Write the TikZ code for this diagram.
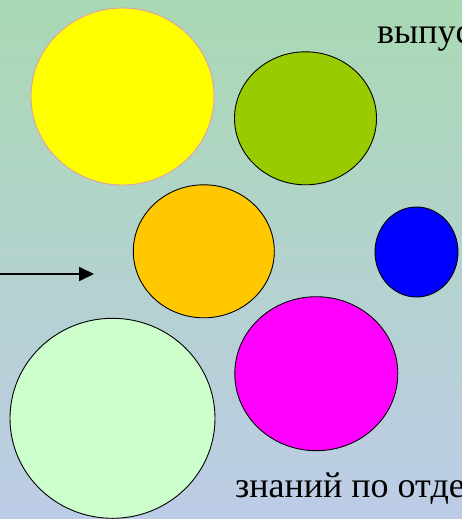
\documentclass[tikz,border=0pt]{standalone}
\usepackage{fontspec}
\setmainfont{Liberation Serif}
\newfontfamily\rufont{Liberation Serif}
\usetikzlibrary{shapes.geometric,arrows.meta}
\definecolor{bgtop}{HTML}{A9D9B3}
\definecolor{bgbot}{HTML}{BDCCE7}
\definecolor{cyellow}{HTML}{FFFF00}
\definecolor{cyedge}{HTML}{E0A0A0}
\definecolor{cgreen}{HTML}{99CC00}
\definecolor{corange}{HTML}{FFC800}
\definecolor{cblue}{HTML}{0000FF}
\definecolor{cmagenta}{HTML}{FF00FF}
\definecolor{clight}{HTML}{CCFFCC}
\tikzset{
  disc/.style={ellipse, draw=black, line width=0.9pt, inner sep=0pt},
  label text/.style={font=\rufont\fontsize{36}{42}\selectfont, inner sep=0pt, anchor=base west, text=black},
}
\begin{document}
\begin{tikzpicture}[x=1pt,y=-1pt]
\useasboundingbox (0,0) rectangle (462,519);
\clip (0,0) rectangle (462,519);
\shade[top color=bgtop, bottom color=bgbot] (0,0) rectangle (462,519);
\node[disc, draw=cyedge, fill=cyellow, minimum width=183pt, minimum height=177pt] (yellow) at (122.5,96.5) {};
\node[disc, fill=cgreen, minimum width=142pt, minimum height=133pt] (green) at (305.5,118.3) {};
\node[disc, fill=corange, minimum width=141pt, minimum height=133pt] (orange) at (203.8,251.3) {};
\node[disc, fill=cblue, minimum width=83pt, minimum height=90pt] (blue) at (416.5,252) {};
\node[disc, fill=cmagenta, minimum width=163pt, minimum height=154pt] (magenta) at (316.3,373.7) {};
\node[disc, fill=clight, minimum width=205pt, minimum height=200pt] (light) at (112.5,418.3) {};
\coordinate (arrowstart) at (-2,274);
\coordinate (arrowend) at (94,274);
\draw[line width=2pt, -{Triangle[length=15pt,width=14pt]}] (arrowstart) -- (arrowend);
\node[label text] (top) at (377,44) {выпус};
\node[label text] (bottom) at (235,497) {знаний по отде};
\end{tikzpicture}
\end{document}
